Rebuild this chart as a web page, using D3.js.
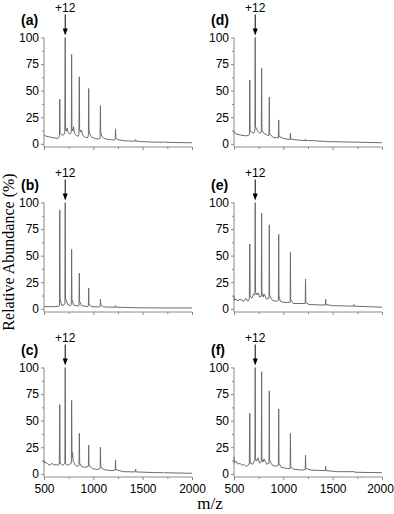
<!DOCTYPE html>
<html>
<head>
<meta charset="utf-8">
<script src="https://cdn.jsdelivr.net/npm/d3@7"></script>
<style>
  body { margin: 0; background: #fff; }
  .tick text { font-family: "Liberation Sans", Arial, sans-serif; font-size: 12px; fill: #000; }
  .axis path, .axis line { stroke: #8a8a8a; }
</style>
</head>
<body>
<div id="container"></div>
<script>
// tick values for both axes
const mzTicks = [500, 1000, 1500, 2000];
const mzMinor = [750, 1250, 1750];
const abundanceTicks = [0, 25, 50, 75, 100];
const abundanceMinor = [12.5, 37.5, 62.5, 87.5];
const panelLabels = ["(a)", "(b)", "(c)", "(d)", "(e)", "(f)"];
const chargeLabel = "+12";
const chargePeak = 715;

// spectra, [m/z, relative abundance]
const specA = [[500,8],[510,7.5],[530,7],[550,6.5],[580,6],[610,5.5],[640,5],[652,6],[657,8],[660,42],[663,10],[672,9],[690,8],[705,9],[711,11],[715,100],[718,14],[726,12],[735,15],[742,11],[760,9],[772,10],[777,12],[780,84],[783,15],[792,12],[800,16],[808,10],[825,8],[845,7],[854,9],[858,63],[861,14],[870,11],[880,13],[892,8],[920,6],[945,6],[950,8],[953,52],[956,12],[966,9],[985,6],[1020,5],[1050,4.5],[1068,5],[1072,36],[1075,11],[1085,7],[1110,5],[1160,4],[1210,3.5],[1222,4],[1225,14],[1228,6],[1245,4],[1300,3],[1380,2.5],[1424,2.5],[1429,4],[1434,2.5],[1500,2],[1600,1.6],[1710,1.5],[1715,2],[1720,1.5],[1850,1.2],[2000,1]];
const specB = [[500,2],[550,2],[600,2],[650,2.5],[657,3],[660,93],[663,9],[680,3],[705,4],[712,5],[715,100],[718,10],[740,4],[770,3],[777,4],[780,56],[783,9],[800,3.5],[850,2.5],[855,3],[858,33.5],[861,7],[880,3],[945,2],[950,2.5],[953,19.5],[956,5],[980,2],[1065,1.8],[1069,2],[1072,9],[1075,4],[1100,1.8],[1220,1.5],[1225,3],[1230,1.5],[1424,1],[1429,1.2],[1434,1],[1700,0.8],[2000,0.8]];
const specC = [[500,13],[505,10],[520,11],[540,9],[560,8],[580,10],[600,8],[620,9],[640,8],[655,9],[660,65],[663,10],[690,8],[705,9],[712,10],[715,100],[718,10],[735,8],[760,9],[777,10],[780,69],[784,15],[790,20],[795,12],[820,8],[845,7],[855,8],[858,38],[862,10],[880,7],[910,6],[950,7],[953,27],[956,8],[990,5],[1040,4],[1069,5],[1072,25],[1075,7],[1100,4],[1180,3],[1222,3.5],[1225,13],[1228,4],[1300,2],[1424,1.8],[1429,4.4],[1432,1.8],[1600,1.2],[1710,1],[1715,1.5],[1720,1],[2000,0.5]];
const specD = [[500,12],[510,10],[530,9],[580,8],[620,7.5],[650,8],[657,9],[660,60],[663,12],[680,11],[700,10],[712,12],[715,100],[718,16],[740,12],[760,10],[777,11],[780,71],[783,13],[800,10],[840,8],[855,8],[858,44],[861,9],[900,6],[950,5.5],[953,22.5],[956,7],[1000,5],[1069,4],[1072,10],[1075,4.5],[1150,3.5],[1222,3],[1225,4.4],[1228,3],[1300,3],[1424,2.2],[1429,2.5],[1434,2.1],[1600,1.8],[2000,1]];
const specE = [[500,12],[505,8],[520,9],[540,7.5],[560,9],[580,8],[600,7],[620,10],[640,7],[655,9],[660,61],[664,12],[680,10],[700,14],[712,13],[715,100],[718,16],[730,13],[745,15],[760,11],[777,12],[780,90],[783,15],[795,11],[805,14],[830,9],[855,10],[858,79],[861,13],[875,10],[890,8],[930,7],[950,8],[953,70],[956,12],[970,7],[1000,6],[1069,6],[1072,53],[1075,9],[1100,5],[1222,5],[1225,28],[1228,6],[1260,4],[1426,3.5],[1429,9],[1432,4],[1500,3],[1712,2.5],[1715,4],[1720,2.5],[2000,1.5]];
const specF = [[500,16],[503,10],[520,12],[540,9],[560,10],[580,8],[600,9],[620,7],[640,8],[655,9],[660,57],[664,10],[690,9],[705,12],[712,12],[715,100],[718,14],[730,12],[742,15],[760,10],[777,12],[780,96],[783,14],[795,11],[805,14],[830,9],[855,10],[858,78],[861,13],[875,10],[890,8],[920,7],[950,8],[953,61],[956,10],[980,6],[1040,5],[1069,5],[1072,38],[1075,7],[1100,4.5],[1180,3.5],[1222,4],[1225,17.5],[1228,5],[1280,3.5],[1426,3],[1429,7],[1432,3],[1550,2],[1712,2],[1715,2.5],[1720,1.5],[2000,1]];

const spectra = [specA, specB, specC, specD, specE, specF];

const width = 394, height = 514;
const svg = d3.select("#container")
  .append("svg")
    .attr("width", width)
    .attr("height", height);

// panel placement: two columns, three rows
const colLeft = [44, 234];
const plotW = 148;
const rowTop = [37.5, 202.5, 367.5];
const plotH = 109.5;

spectra.forEach((spec, i) => {
  const col = Math.floor(i / 3), row = i % 3;
  const g = svg.append("g")
    .attr("transform", `translate(${colLeft[col]},${rowTop[row]})`);

  const x = d3.scaleLinear().domain([500, 2000]).range([0, plotW]);
  const y = d3.scaleLinear().domain([-3, 100]).range([plotH, 0]);

  // minor ticks first, then the labelled axes
  g.append("g").attr("class", "axis")
    .attr("transform", `translate(0,${plotH})`)
    .call(d3.axisBottom(x).tickValues(mzMinor).tickSize(2).tickFormat(""))
    .select(".domain").remove();
  g.append("g").attr("class", "axis")
    .call(d3.axisLeft(y).tickValues(abundanceMinor).tickSize(2).tickFormat(""))
    .select(".domain").remove();

  const xAxis = g.append("g").attr("class", "axis")
    .attr("transform", `translate(0,${plotH})`)
    .call(d3.axisBottom(x).tickValues(mzTicks).tickSize(3).tickSizeOuter(0).tickPadding(3)
      .tickFormat(row === 2 ? d3.format("d") : ""));
  xAxis.selectAll(".tick text").attr("dy", "0.85em");
  // keep the right-most label inside the page
  if (col === 1) xAxis.selectAll(".tick text").filter(d => d === 2000).attr("dx", -2);

  g.append("g").attr("class", "axis")
    .call(d3.axisLeft(y).tickValues(abundanceTicks).tickSize(3).tickSizeOuter(0).tickPadding(2));
  g.selectAll(".axis .domain").attr("d", null);
  // redraw domain lines so they run exactly from 0..100 and 500..2000
  g.append("line").attr("x1", 0).attr("x2", 0).attr("y1", y(100)).attr("y2", plotH)
    .attr("stroke", "#8a8a8a");
  g.append("line").attr("x1", 0).attr("x2", plotW).attr("y1", plotH).attr("y2", plotH)
    .attr("stroke", "#8a8a8a");

  // the spectrum
  g.append("path")
    .datum(spec)
    .attr("d", d3.line().x(d => x(d[0])).y(d => y(d[1])))
    .attr("fill", "none")
    .attr("stroke", "#6b6b6b")
    .attr("stroke-width", 1)
    .attr("stroke-linejoin", "round");

  // panel letter
  g.append("text")
    .attr("x", -23).attr("y", -13)
    .style("font-family", "Liberation Sans, Arial, sans-serif")
    .style("font-weight", "bold")
    .style("font-size", "14px")
    .text(panelLabels[i]);

  // charge state marker with arrow
  const px = x(chargePeak);
  g.append("text")
    .attr("x", px).attr("y", -26)
    .attr("text-anchor", "middle")
    .style("font-family", "Liberation Sans, Arial, sans-serif")
    .style("font-size", "12px")
    .text(chargeLabel);
  g.append("line")
    .attr("x1", px).attr("x2", px).attr("y1", -23).attr("y2", -8)
    .attr("stroke", "#000").attr("stroke-width", 1);
  g.append("path")
    .attr("d", `M${px - 2.5},${-9} L${px + 2.5},${-9} L${px},${-2} Z`)
    .attr("fill", "#000");
});

// shared axis titles
svg.append("text")
  .attr("transform", "translate(14,252) rotate(-90)")
  .attr("text-anchor", "middle")
  .style("font-family", "Liberation Serif, Times New Roman, serif")
  .style("font-size", "16px")
  .text("Relative Abundance (%)");

svg.append("text")
  .attr("x", 210).attr("y", 509)
  .attr("text-anchor", "middle")
  .style("font-family", "Liberation Serif, Times New Roman, serif")
  .style("font-size", "17px")
  .text("m/z");
</script>
</body>
</html>
